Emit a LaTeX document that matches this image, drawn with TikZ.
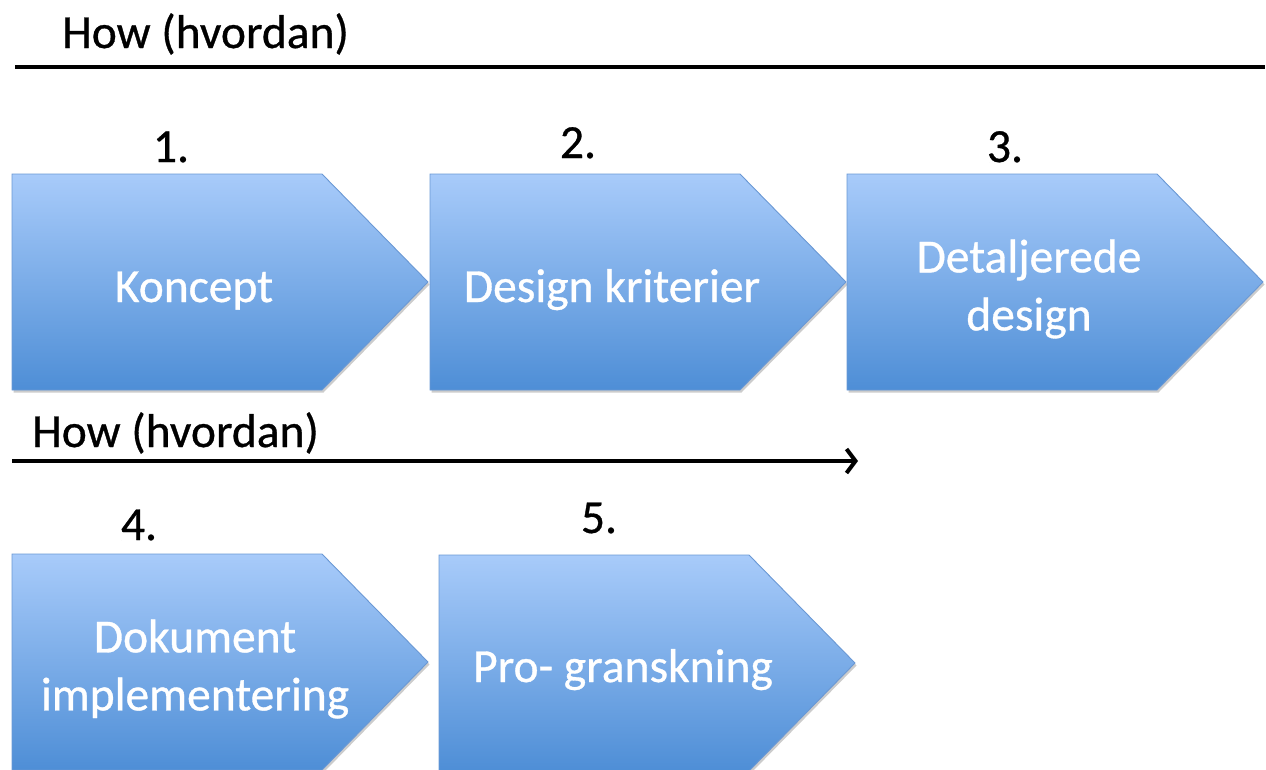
\documentclass[tikz,border=0pt]{standalone}
\usepackage{fontspec}
\setmainfont{Carlito}
\newfontfamily\slidefont[FakeBold=0.7]{Carlito}
\usetikzlibrary{arrows.meta,shadows}
\definecolor{boxtop}{RGB}{168,203,250}
\definecolor{boxbot}{RGB}{78,142,214}
\definecolor{boxedge}{RGB}{106,152,212}
\tikzset{
  stepshape/.style={draw=boxedge, line width=0.9pt, top color=boxtop, bottom color=boxbot,
    drop shadow={shadow xshift=1.5pt, shadow yshift=-2.5pt, opacity=0.2, fill=black}},
  bigfont/.style={font=\slidefont\fontsize{47.5}{58}\selectfont},
  steptext/.style={bigfont, text=white, align=center, inner sep=0pt},
  numtext/.style={bigfont, inner sep=0pt, anchor=base},
  headtext/.style={bigfont, inner sep=0pt, anchor=base west},
  rule/.style={line width=4.5pt, black},
}
% one process step: left edge x, top edge y (pixel-like units, y downwards)
\newcommand\processstep[2]{%
  \path[stepshape] (#1,#2) -- ++(310,0) -- ++(106,108) -- ++(-106,108) -- ++(-310,0) -- cycle;}
\begin{document}
\begin{tikzpicture}[x=1pt,y=-1pt]
  \useasboundingbox (0,0) rectangle (1266,769);

  % upper heading and rule
  \node[headtext] (how1) at (62,48) {How (hvordan)};
  \coordinate (r1a) at (15,67);
  \coordinate (r1b) at (1265,67);
  \draw[rule] (r1a) -- (r1b);

  % first row of steps
  \processstep{12}{174}
  \processstep{430}{174}
  \processstep{847}{174}
  \node[numtext] (n1) at (171,162) {1.};
  \node[numtext] (n2) at (578,158) {2.};
  \node[numtext] (n3) at (1005,162) {3.};
  \node[steptext, anchor=base] (s1) at (194,302) {Koncept};
  \node[steptext, anchor=base] (s2) at (612,302) {Design kriterier};
  \node[steptext] (s3) at (1029,289) {Detaljerede\\design};

  % lower heading and arrow
  \node[headtext] (how2) at (32,447) {How (hvordan)};
  \coordinate (r2a) at (12,461);
  \coordinate (r2b) at (858,461);
  \draw[line width=4pt, -{Straight Barb[length=9pt,width=24pt]}] (r2a) -- (r2b);

  % second row of steps
  \processstep{12}{554}
  \processstep{439}{555}
  \node[numtext] (n4) at (139,540) {4.};
  \node[numtext] (n5) at (599,533) {5.};
  \node[steptext] (s4) at (195,669) {Dokument\\implementering};
  \node[steptext, anchor=base] (s5) at (623,682) {Pro- granskning};
\end{tikzpicture}
\end{document}
